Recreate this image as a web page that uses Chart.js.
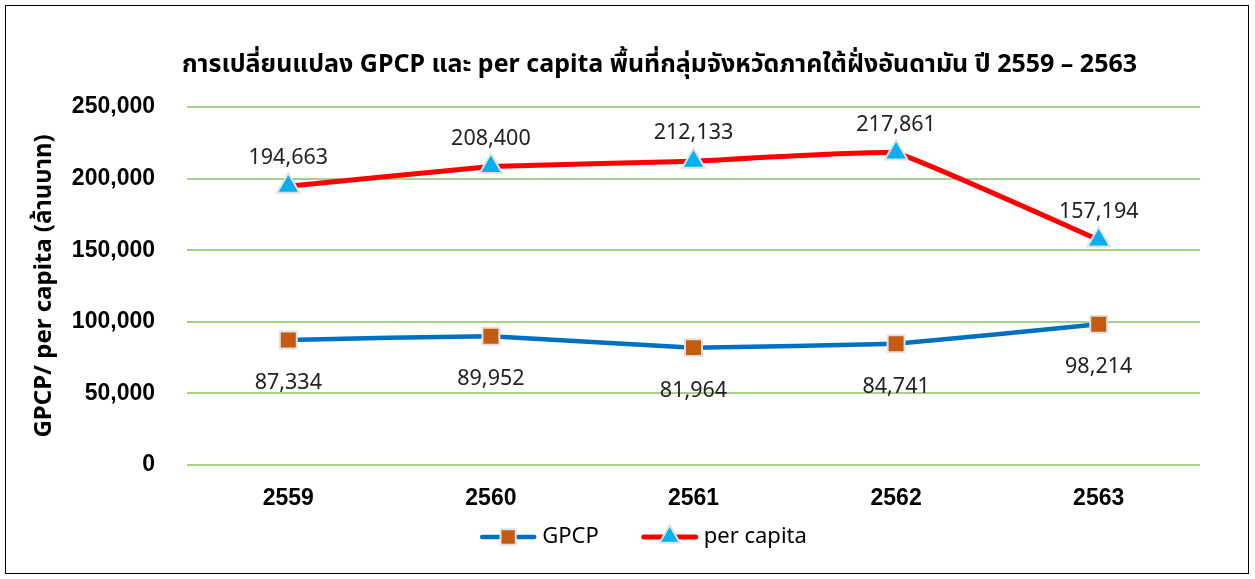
<!DOCTYPE html>
<html><head><meta charset="utf-8">
<script src="https://cdn.jsdelivr.net/npm/chart.js@4"></script>
<style>
html,body{margin:0;padding:0;background:#fff;}
#wrap{position:relative;width:1255px;height:579px;}
#frame{position:absolute;left:5px;top:5px;width:1244px;height:569px;border:1px solid #000;box-sizing:border-box;}
canvas{position:absolute;left:0;top:0;}
</style></head>
<body><div id="wrap"><div id="frame"></div><canvas id="c" width="1255" height="579"></canvas></div>
<script>
const categories = ['2559','2560','2561','2562','2563'];
const gpcp = [87334, 89952, 81964, 84741, 98214];
const perCapita = [194663, 208400, 212133, 217861, 157194];
const yTicks = [0, 50000, 100000, 150000, 200000, 250000];
const titleText = 'การเปลี่ยนแปลง GPCP และ per capita พื้นที่กลุ่มจังหวัดภาคใต้ฝั่งอันดามัน ปี 2559 – 2563';
const yTitle = 'GPCP/ per capita (ล้านบาท)';

const FONT = '"Liberation Sans", "Noto Sans", sans-serif';
const THAI = '"Noto Sans", "Noto Sans Thai", sans-serif';

const extrasPlugin = {
  id: 'extras',
  afterDatasetsDraw(chart) {
    const ctx = chart.ctx;
    const area = chart.chartArea;
    ctx.save();
    // value labels
    ctx.font = '21.5px ' + THAI;
    ctx.fillStyle = '#222';
    ctx.textAlign = 'center';
    ctx.textBaseline = 'middle';
    chart.data.datasets.forEach((ds, i) => {
      const meta = chart.getDatasetMeta(i);
      meta.data.forEach((pt, j) => {
        const v = ds.data[j].toLocaleString('en-US');
        const dy = i === 0 ? 43 : -28;
        ctx.fillText(v, pt.x, pt.y + dy);
      });
    });
    // title
    ctx.font = 'bold 25px ' + THAI;
    ctx.fillStyle = '#000';
    ctx.fillText(titleText, (area.left + area.right) / 2 - 34, 65);
    // legend
    ctx.font = '22px ' + THAI;
    ctx.textAlign = 'left';
    const lineW = 56, gap = 6, between = 43;
    const items = chart.data.datasets.map(ds => ({ ds, tw: ctx.measureText(ds.label).width }));
    const total = items.reduce((s, it) => s + lineW + gap + it.tw, 0) + between * (items.length - 1);
    let x = chart.width / 2 + 16 - total / 2;
    const ly = 537;
    items.forEach(it => {
      const ds = it.ds;
      ctx.strokeStyle = ds.borderColor;
      ctx.lineWidth = ds.borderWidth;
      ctx.lineCap = 'round';
      ctx.beginPath(); ctx.moveTo(x + 2, ly); ctx.lineTo(x + lineW - 2, ly); ctx.stroke();
      ctx.fillStyle = ds.pointBackgroundColor;
      ctx.strokeStyle = ds.pointBorderColor;
      ctx.lineWidth = 2;
      Chart.helpers.drawPoint(ctx, { pointStyle: ds.pointStyle, radius: ds.pointRadius * 0.9, borderWidth: 2, rotation: 0 }, x + lineW / 2, ly);
      ctx.fillStyle = '#000';
      ctx.fillText(ds.label, x + lineW + gap, ly);
      x += lineW + gap + it.tw + between;
    });
    ctx.restore();
  }
};

new Chart(document.getElementById('c'), {
  type: 'line',
  data: {
    labels: categories,
    datasets: [
      { label: 'GPCP', data: gpcp, borderColor: '#0070C0', backgroundColor: '#C55A11',
        pointBackgroundColor: '#C55A11',
        borderWidth: 4.5, pointStyle: 'rect', pointRadius: 12, pointBorderColor: '#E2E2E2', pointBorderWidth: 2,
        tension: 0.08 },
      { label: 'per capita', data: perCapita, borderColor: '#FF0000', backgroundColor: '#00B0F0',
        pointBackgroundColor: '#00B0F0',
        borderWidth: 5, pointStyle: 'triangle', pointRadius: 13, pointBorderColor: '#E2E2E2', pointBorderWidth: 2,
        tension: 0.08 }
    ]
  },
  options: {
    responsive: false,
    animation: false,
    layout: { padding: { left: 0, right: 55, top: 107, bottom: 0 } },
    plugins: {
      title: { display: false },
      legend: { display: false },
      tooltip: { enabled: false }
    },
    scales: {
      x: {
        offset: true,
        afterFit(s) { s.height = 114; },
        grid: { display: false },
        border: { display: false },
        ticks: { color: '#000', font: { family: FONT, size: 23, weight: 'bold' }, padding: 12 }
      },
      y: {
        min: 0, max: 250000,
        afterBuildTicks(s) { s.ticks = yTicks.map(v => ({ value: v })); },
        afterFit(s) { s.width = 187; },
        grid: { color: '#A9D18E', lineWidth: 2, drawTicks: false },
        border: { display: false },
        ticks: { color: '#000', font: { family: FONT, size: 23, weight: 'bold' }, padding: 32,
          callback: v => v.toLocaleString('en-US') },
        title: { display: true, text: yTitle, color: '#000', font: { family: THAI, size: 24, weight: 'bold' }, padding: { top: 30, bottom: 0 } }
      }
    }
  },
  plugins: [extrasPlugin]
});
</script></body></html>
